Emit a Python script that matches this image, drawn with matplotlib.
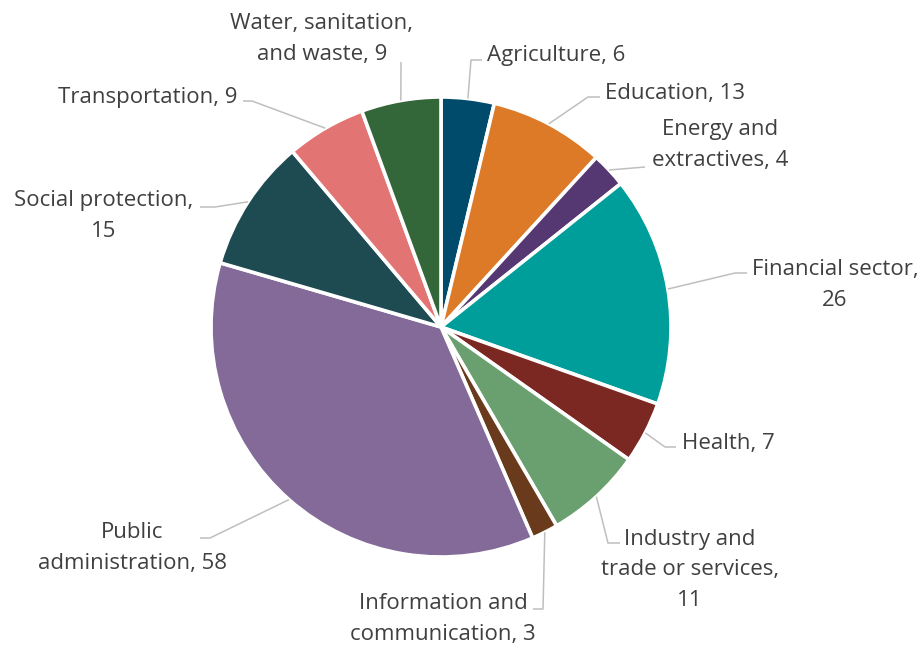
import numpy as np
import matplotlib
matplotlib.use("Agg")
import matplotlib.pyplot as plt

# Project counts by sector
sectors = [
    "Agriculture", "Education", "Energy and\nextractives", "Financial sector,\n",
    "Health", "Industry and\ntrade or services,\n", "Information and\ncommunication",
    "Public\nadministration", "Social protection,\n", "Transportation",
    "Water, sanitation,\nand waste",
]
counts = [6, 13, 4, 26, 7, 11, 3, 58, 15, 9, 9]
colors = [
    "#004B6B", "#DC7A28", "#553872", "#009E9A", "#7B2822", "#6AA070",
    "#6A3A1C", "#836A98", "#1E4B52", "#E37474", "#336639",
]

W, H = 924, 650
CX, CY, R = 441, 327, 230          # pie centre / radius in pixel units (y from top)

# Label layout: leader elbow, leader end, text anchor, horizontal alignment
elbows = [(471, 60), (588, 97), (645, 167), (735, 273), (665, 447), (608, 543),
          (543, 609), (210, 538), (215, 207), (252, 101), (401, 62)]
ends = [(482, 60), (600, 97), (645, 167), (747, 273), (676, 447), (620, 543),
        (533, 609), (200, 538), (200, 207), (243, 101), (401, 62)]
text_pos = [(487, 55), (605, 93), (720, 145), (835, 285), (682, 443), (690, 570),
            (443, 619), (132, 548), (104, 216), (238, 97), (322, 39)]
aligns = ["left", "left", "center", "center", "left", "center",
          "center", "center", "center", "right", "center"]

plt.rcParams["font.family"] = ["Open Sans", "DejaVu Sans"]

fig = plt.figure(figsize=(W / 100, H / 100), dpi=100)
ax = fig.add_axes([0, 0, 1, 1])


def fy(y):
    return H - y


wedges, _ = ax.pie(
    counts, colors=colors, startangle=90, counterclock=False,
    center=(CX, fy(CY)), radius=R, frame=True,
    wedgeprops=dict(edgecolor="white", linewidth=2.6),
)
ax.set_xlim(0, W)
ax.set_ylim(0, H)
ax.set_aspect("equal")
ax.axis("off")

text_color = "#404040"
line_color = "#BFBFBF"
for w, name, val, el, en, tp, ha in zip(wedges, sectors, counts, elbows, ends,
                                         text_pos, aligns):
    mid = np.deg2rad((w.theta1 + w.theta2) / 2)
    sx = CX + R * np.cos(mid)
    sy = fy(CY) + R * np.sin(mid)
    ax.plot([sx, el[0], en[0]], [sy, fy(el[1]), fy(en[1])],
            color=line_color, lw=1.1, solid_capstyle="butt")
    if name.endswith("\n"):
        label = f"{name}{val}"
    else:
        label = f"{name}, {val}"
    ax.text(tp[0], fy(tp[1]), label, ha=ha, va="center", multialignment="center",
            fontsize=16, color=text_color, linespacing=1.58)

fig.savefig("out.png", dpi=100, facecolor="white")
